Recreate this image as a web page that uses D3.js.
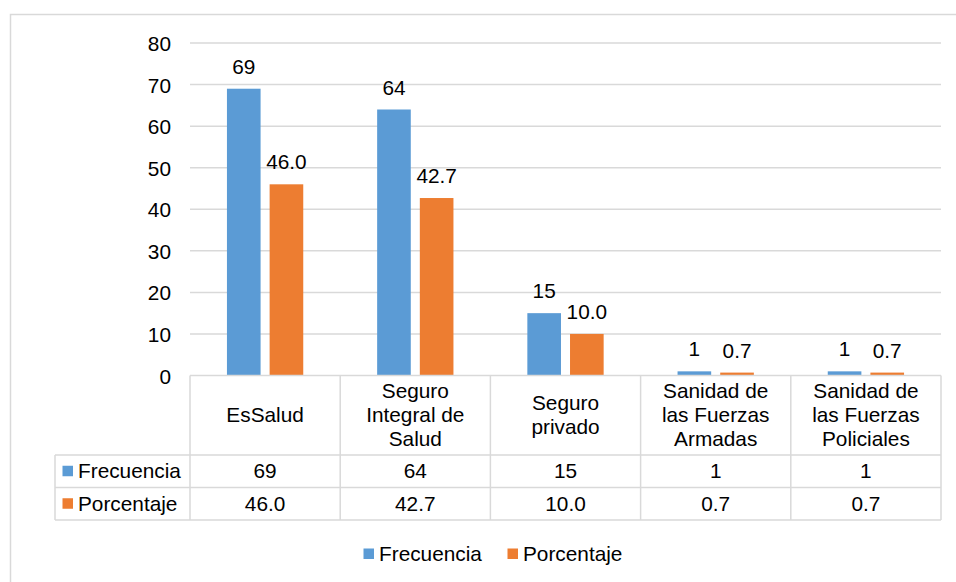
<!DOCTYPE html>
<html>
<head>
<meta charset="utf-8">
<script src="https://cdn.jsdelivr.net/npm/d3@7"></script>
<style>
  html, body { margin: 0; padding: 0; background: #fff; }
  svg { display: block; font-family: "Liberation Sans", Arial, sans-serif; }
  text { fill: #000; }
</style>
</head>
<body>
<svg id="chart" width="956" height="582"></svg>
<script>
// ── Data ──────────────────────────────────────────────────────────────────────
const categories = [
  "EsSalud",
  "Seguro Integral de Salud",
  "Seguro privado",
  "Sanidad de las Fuerzas Armadas",
  "Sanidad de las Fuerzas Policiales",
];
const categoryLines = [
  ["EsSalud"],
  ["Seguro", "Integral de", "Salud"],
  ["Seguro", "privado"],
  ["Sanidad de", "las Fuerzas", "Armadas"],
  ["Sanidad de", "las Fuerzas", "Policiales"],
];
const seriesNames = ["Frecuencia", "Porcentaje"];
const frecuencia = [69, 64, 15, 1, 1];
const porcentaje = [46.0, 42.7, 10.0, 0.7, 0.7];
const yTicks = [0, 10, 20, 30, 40, 50, 60, 70, 80];

const COLORS = { Frecuencia: "#5B9BD5", Porcentaje: "#ED7D31" };
const GRID = "#d9d9d9";
const FONT = 20.8;

const values = { Frecuencia: frecuencia, Porcentaje: porcentaje };
const fmt = { Frecuencia: d3.format("d"), Porcentaje: d3.format(".1f") };

// ── Layout ────────────────────────────────────────────────────────────────────
const plot = { left: 190, right: 941, top: 43, bottom: 375.5 };
const rowH = [79.5, 32.5, 32.5];   // header, Frecuencia, Porcentaje
const tableLeft = 55;

const svg = d3.select("#chart");

// outer chart border (runs off the right / bottom of the image)
svg.append("rect")
  .attr("x", 10.5).attr("y", 14.5)
  .attr("width", 1000).attr("height", 1000)
  .attr("fill", "none").attr("stroke", GRID).attr("stroke-width", 1.5);

const x0 = d3.scaleBand().domain(categories).range([plot.left, plot.right]);
const bw = x0.bandwidth();
const x1 = d3.scaleBand().domain(seriesNames)
  .range([bw * 0.246, bw * 0.754]).paddingInner(0.212);
const y = d3.scaleLinear().domain([0, 80]).range([plot.bottom, plot.top]);

// gridlines
svg.append("g").selectAll("line")
  .data(yTicks.filter(t => t > 0))
  .join("line")
  .attr("x1", plot.left).attr("x2", plot.right)
  .attr("y1", d => y(d)).attr("y2", d => y(d))
  .attr("stroke", GRID).attr("stroke-width", 1.5);

// y axis labels
const yAxis = svg.append("g")
  .attr("transform", `translate(${plot.left},0)`)
  .call(d3.axisLeft(y).tickValues(yTicks).tickSize(0).tickPadding(19));
yAxis.select(".domain").remove();
yAxis.selectAll("text")
  .attr("font-size", FONT).attr("font-family", "Liberation Sans, Arial, sans-serif")
  .attr("fill", "#000").attr("dy", "0.36em");

// bars
const groups = svg.append("g").selectAll("g")
  .data(categories)
  .join("g")
  .attr("transform", d => `translate(${x0(d)},0)`);

groups.selectAll("rect")
  .data((d, i) => seriesNames.map(s => ({ s, v: values[s][i] })))
  .join("rect")
  .attr("x", d => x1(d.s))
  .attr("width", x1.bandwidth())
  .attr("y", d => y(d.v))
  .attr("height", d => y(0) - y(d.v))
  .attr("fill", d => COLORS[d.s]);

groups.selectAll("text.lbl")
  .data((d, i) => seriesNames.map(s => ({ s, v: values[s][i] })))
  .join("text")
  .attr("class", "lbl")
  .attr("x", d => x1(d.s) + x1.bandwidth() / 2)
  .attr("y", d => y(d.v) - 15)
  .attr("text-anchor", "middle")
  .attr("font-size", FONT)
  .text(d => fmt[d.s](d.v));

// ── Data table ────────────────────────────────────────────────────────────────
const rowTop = [plot.bottom, plot.bottom + rowH[0], plot.bottom + rowH[0] + rowH[1]];
const tableBottom = rowTop[2] + rowH[2];
const tbl = svg.append("g")
  .attr("stroke", GRID).attr("stroke-width", 1.5).attr("fill", "none");

// horizontal lines
tbl.append("line").attr("x1", plot.left).attr("x2", plot.right)
  .attr("y1", rowTop[0]).attr("y2", rowTop[0]);
[rowTop[1], rowTop[2], tableBottom].forEach(yy => {
  tbl.append("line").attr("x1", tableLeft).attr("x2", plot.right)
    .attr("y1", yy).attr("y2", yy);
});
// vertical lines
tbl.append("line").attr("x1", tableLeft).attr("x2", tableLeft)
  .attr("y1", rowTop[1]).attr("y2", tableBottom);
const colEdges = categories.map(c => x0(c)).concat([plot.right]);
tbl.selectAll("line.v")
  .data(colEdges)
  .join("line")
  .attr("class", "v")
  .attr("x1", d => d).attr("x2", d => d)
  .attr("y1", rowTop[0]).attr("y2", tableBottom);

// header (category names)
const headCenter = rowTop[0] + rowH[0] / 2;
svg.append("g").selectAll("text")
  .data(categories)
  .join("text")
  .attr("x", d => x0(d) + bw / 2)
  .attr("text-anchor", "middle")
  .attr("font-size", FONT)
  .each(function(d, i) {
    const lines = categoryLines[i];
    d3.select(this).selectAll("tspan")
      .data(lines)
      .join("tspan")
      .attr("x", x0(d) + bw / 2)
      .attr("y", (_, j) => headCenter + 7 + (j - (lines.length - 1) / 2) * 24)
      .text(t => t);
  });

// value rows
seriesNames.forEach((s, r) => {
  const cy = rowTop[r + 1] + rowH[r + 1] / 2;
  const row = svg.append("g");
  row.append("rect")
    .attr("x", 62.5).attr("y", cy - 5.5)
    .attr("width", 10.5).attr("height", 10.5)
    .attr("fill", COLORS[s]);
  row.append("text")
    .attr("x", 78).attr("y", cy + 7)
    .attr("font-size", FONT)
    .text(s);
  row.selectAll("text.val")
    .data(categories)
    .join("text")
    .attr("class", "val")
    .attr("x", d => x0(d) + bw / 2)
    .attr("y", cy + 7)
    .attr("text-anchor", "middle")
    .attr("font-size", FONT)
    .text((d, i) => fmt[s](values[s][i]));
});

// ── Legend ────────────────────────────────────────────────────────────────────
const legendX = { Frecuencia: 363.5, Porcentaje: 507.5 };
const legend = svg.append("g").selectAll("g")
  .data(seriesNames)
  .join("g")
  .attr("transform", d => `translate(${legendX[d]},548.5)`);
legend.append("rect")
  .attr("width", 10.5).attr("height", 10.5)
  .attr("fill", d => COLORS[d]);
legend.append("text")
  .attr("x", 15.5).attr("y", 12.5)
  .attr("font-size", FONT)
  .text(d => d);
</script>
</body>
</html>
